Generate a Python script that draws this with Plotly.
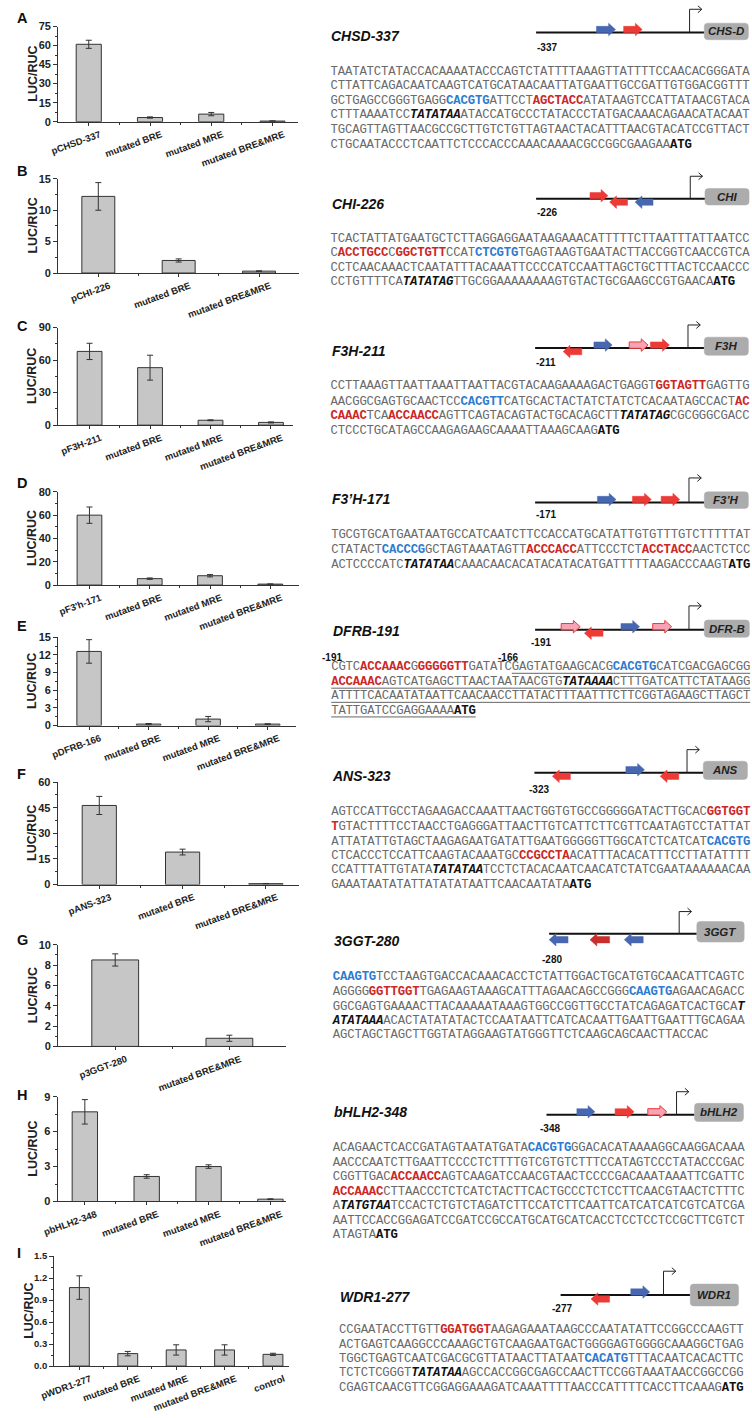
import plotly.graph_objects as go

W, H = 752, 1418

# ---------------- bar-chart data ----------------
A_labels = ["pCHSD-337", "mutated BRE", "mutated MRE", "mutated BRE&amp;MRE"]
A_vals = [61.0, 3.3, 6.0, 0.5]
A_err = [3.2, 0.5, 1.3, 0.2]
B_labels = ["pCHI-226", "mutated BRE", "mutated BRE&amp;MRE"]
B_vals = [12.2, 2.0, 0.3]
B_err = [2.2, 0.25, 0.05]
C_labels = ["pF3H-211", "mutated BRE", "mutated MRE", "mutated BRE&amp;MRE"]
C_vals = [68.0, 53.0, 4.5, 2.5]
C_err = [7.5, 11.5, 0.4, 0.5]
D_labels = ["pF3'h-171", "mutated BRE", "mutated MRE", "mutated BRE&amp;MRE"]
D_vals = [60.0, 5.5, 8.0, 0.8]
D_err = [7.0, 0.6, 1.0, 0.2]
E_labels = ["pDFRB-166", "mutated BRE", "mutated MRE", "mutated BRE&amp;MRE"]
E_vals = [12.6, 0.25, 1.1, 0.25]
E_err = [2.0, 0.1, 0.45, 0.05]
F_labels = ["pANS-323", "mutated BRE", "mutated BRE&amp;MRE"]
F_vals = [46.3, 19.0, 0.5]
F_err = [5.3, 1.7, 0.1]
G_labels = ["p3GGT-280", "mutated BRE&amp;MRE"]
G_vals = [8.5, 0.8]
G_err = [0.6, 0.3]
H_labels = ["pbHLH2-348", "mutated BRE", "mutated MRE", "mutated BRE&amp;MRE"]
H_vals = [7.7, 2.15, 3.0, 0.2]
H_err = [1.05, 0.15, 0.15, 0.03]
I_labels = ["pWDR1-277", "mutated BRE", "mutated MRE", "mutated BRE&amp;MRE", "control"]
I_vals = [1.07, 0.17, 0.22, 0.22, 0.16]
I_err = [0.16, 0.03, 0.07, 0.07, 0.015]

# ---------------- promoter sequences ----------------
# n = plain, B = blue motif, R = red motif, T = TATA box, A = ATG ; suffix u = underlined
CHSD_seq = [
    [('n', 'TAATATCTATACCACAAAATACCCAGTCTATTTTAAAGTTATTTTCCAACACGGGATA')],
    [('n', 'CTTATTCAGACAATCAAGTCATGCATAACAATTATGAATTGCCGATTGTGGACGGTTT')],
    [('n', 'GCTGAGCCGGGTGAGG'), ('B', 'CACGTG'), ('n', 'ATTCCT'), ('R', 'AGCTACC'), ('n', 'ATATAAGTCCATTATAACGTACA')],
    [('n', 'CTTTAAAATCC'), ('T', 'TATATAA'), ('n', 'ATACCATGCCCTATACCCTATGACAAACAGAACATACAAT')],
    [('n', 'TGCAGTTAGTTAACGCCGCTTGTCTGTTAGTAACTACATTTAACGTACATCCGTTACT')],
    [('n', 'CTGCAATACCCTCAATTCTCCCACCCAAACAAAACGCCGGCGAAGAA'), ('A', 'ATG')],
]
CHI_seq = [
    [('n', 'TCACTATTATGAATGCTCTTAGGAGGAATAAGAAACATTTTTCTTAATTTATTAATCC')],
    [('n', 'C'), ('R', 'ACCTGCC'), ('n', 'C'), ('R', 'GGCTGTT'), ('n', 'CCAT'), ('B', 'CTCGTG'), ('n', 'TGAGTAAGTGAATACTTACCGGTCAACCGTCA')],
    [('n', 'CCTCAACAAACTCAATATTTACAAATTCCCCATCCAATTAGCTGCTTTACTCCAACCC')],
    [('n', 'CCTGTTTTCA'), ('T', 'TATATAG'), ('n', 'TTGCGGAAAAAAAAGTGTACTGCGAAGCCGTGAACA'), ('A', 'ATG')],
]
F3H_seq = [
    [('n', 'CCTTAAAGTTAATTAAATTAATTACGTACAAGAAAAGACTGAGGT'), ('R', 'GGTAGTT'), ('n', 'GAGTTG')],
    [('n', 'AACGGCGAGTGCAACTCC'), ('B', 'CACGTT'), ('n', 'CATGCACTACTATCTATCTCACAATAGCCACT'), ('R', 'AC')],
    [('R', 'CAAAC'), ('n', 'TCA'), ('R', 'ACCAACC'), ('n', 'AGTTCAGTACAGTACTGCACAGCTT'), ('T', 'TATATAG'), ('n', 'CGCGGGCGACC')],
    [('n', 'CTCCCTGCATAGCCAAGAGAAGCAAAATTAAAGCAAG'), ('A', 'ATG')],
]
F3pH_seq = [
    [('n', 'TGCGTGCATGAATAATGCCATCAATCTTCCACCATGCATATTGTGTTTGTCTTTTTAT')],
    [('n', 'CTATACT'), ('B', 'CACCCG'), ('n', 'GCTAGTAAATAGTT'), ('R', 'ACCCACC'), ('n', 'ATTCCCTCT'), ('R', 'ACCTACC'), ('n', 'AACTCTCC')],
    [('n', 'ACTCCCCATC'), ('T', 'TATATAA'), ('n', 'CAAACAACACATACATACATGATTTTTAAGACCCAAGT'), ('A', 'ATG')],
]
DFRB_seq = [
    [('n', 'CGTC'), ('R', 'ACCAAAC'), ('n', 'G'), ('R', 'GGGGGTT'), ('n', 'GATATC'), ('nu', 'GAGTATGAAGCACG'), ('Bu', 'CACGTG'), ('nu', 'CATCGACGAGCGG')],
    [('Ru', 'ACCAAAC'), ('nu', 'AGTCATGAGCTTAACTAATAACGTG'), ('Tu', 'TATAAAA'), ('nu', 'CTTTGATCATTCTATAAGG')],
    [('nu', 'ATTTTCACAATATAATTCAACAACCTTATACTTTAATTTCTTCGGTAGAAGCTTAGCT')],
    [('nu', 'TATTGATCCGAGGAAAA'), ('Au', 'ATG')],
]
ANS_seq = [
    [('n', 'AGTCCATTGCCTAGAAGACCAAATTAACTGGTGTGCCGGGGGATACTTGCAC'), ('R', 'GGTGGT')],
    [('R', 'T'), ('n', 'GTACTTTTCCTAACCTGAGGGATTAACTTGTCATTCTTCGTTCAATAGTCCTATTAT')],
    [('n', 'ATTATATTGTAGCTAAGAGAATGATATTGAATGGGGGTTGGCATCTCATCAT'), ('B', 'CACGTG')],
    [('n', 'CTCACCCTCCATTCAAGTACAAATGC'), ('R', 'CCGCCTA'), ('n', 'ACATTTACACATTTCCTTATATTTT')],
    [('n', 'CCATTTATTGTATA'), ('T', 'TATATAA'), ('n', 'TCCTCTACACAATCAACATCTATCGAATAAAAAACAA')],
    [('n', 'GAAATAATATATTATATATAATTCAACAATATA'), ('A', 'ATG')],
]
GGT_seq = [
    [('B', 'CAAGTG'), ('n', 'TCCTAAGTGACCACAAACACCTCTATTGGACTGCATGTGCAACATTCAGTC')],
    [('n', 'AGGGG'), ('R', 'GGTTGGT'), ('n', 'TGAGAAGTAAAGCATTTAGAACAGCCGGG'), ('B', 'CAAGTG'), ('n', 'AGAACAGACC')],
    [('n', 'GGCGAGTGAAAACTTACAAAAATAAAGTGGCCGGTTGCCTATCAGAGATCACTGCA'), ('T', 'T')],
    [('T', 'ATATAAA'), ('n', 'ACACTATATATACTCCAATAATTCATCACAATTGAATTGAATTTGCAGAA')],
    [('n', 'AGCTAGCTAGCTTGGTATAGGAAGTATGGGTTCTCAAGCAGCAACTTACCAC')],
]
BHLH_seq = [
    [('n', 'ACAGAACTCACCGATAGTAATATGATA'), ('B', 'CACGTG'), ('n', 'GGACACATAAAAGGCAAGGACAAA')],
    [('n', 'AACCCAATCTTGAATTCCCCTCTTTTGTCGTGTCTTTCCATAGTCCCTATACCCGAC')],
    [('n', 'CGGTTGAC'), ('R', 'ACCAACC'), ('n', 'AGTCAAGATCCAACGTAACTCCCCGACAAATAAATTCGATTC')],
    [('R', 'ACCAAAC'), ('n', 'CTTAACCCTCTCATCTACTTCACTGCCCTCTCCTTCAACGTAACTCTTTC')],
    [('n', 'A'), ('T', 'TATGTAA'), ('n', 'TCCACTCTGTCTAGATCTTCCATCTTCAATTCATCATCATCGTCATCGA')],
    [('n', 'AATTCCACCGGAGATCCGATCCGCCATGCATGCATCACCTCCTCCTCCGCTTCGTCT')],
    [('n', 'ATAGTA'), ('A', 'ATG')],
]
WDR_seq = [
    [('n', 'CCGAATACCTTGTT'), ('R', 'GGATGGT'), ('n', 'AAGAGAAATAAGCCCAATATATTCCGGCCCAAGTT')],
    [('n', 'ACTGAGTCAAGGCCCAAAGCTGTCAAGAATGACTGGGGAGTGGGGCAAAGGCTGAG')],
    [('n', 'TGGCTGAGTCAATCGACGCGTTATAACTTATAAT'), ('B', 'CACATG'), ('n', 'TTTACAATCACACTTC')],
    [('n', 'TCTCTCGGGT'), ('T', 'TATATAA'), ('n', 'AGCCACCGGCGAGCCAACTTCCGGTAAATAACCGGCCGG')],
    [('n', 'CGAGTCAACGTTCGGAGGAAAGATCAAATTTTAACCCATTTTCACCTTCAAAG'), ('A', 'ATG')],
]


def X(p):
    return p / W


def Y(p):
    return 1 - p / H


# ---------------- left: bar panels ----------------
panels = [
    dict(lab=A_labels, v=A_vals, e=A_err, x0=44, x1=289, y0=116.7, yt=20.7, ymax=75, dt=15, mn=7.5, xr=[-0.5, 3.42], L='A', Ly=12.5),
    dict(lab=B_labels, v=B_vals, e=B_err, x0=44, x1=290, y0=269.3, yt=174.3, ymax=15, dt=5, mn=2.5, xr=[-0.5, 2.5], L='B', Ly=166),
    dict(lab=C_labels, v=C_vals, e=C_err, x0=44, x1=284, y0=422.7, yt=324.3, ymax=90, dt=30, mn=15, xr=[-0.52, 3.37], L='C', Ly=322.7),
    dict(lab=D_labels, v=D_vals, e=D_err, x0=44, x1=290, y0=584, yt=490, ymax=80, dt=20, mn=10, xr=[-0.52, 3.48], L='D', Ly=481),
    dict(lab=E_labels, v=E_vals, e=E_err, x0=44, x1=287, y0=725.7, yt=636.7, ymax=15, dt=3, mn=1.5, xr=[-0.52, 3.48], L='E', Ly=625),
    dict(lab=F_labels, v=F_vals, e=F_err, x0=43.5, x1=290, y0=886, yt=782.7, ymax=60, dt=15, mn=7.5, xr=[-0.5, 2.4], L='F', Ly=775),
    dict(lab=G_labels, v=G_vals, e=G_err, x0=44, x1=277, y0=1049.3, yt=946.7, ymax=10, dt=2, mn=1, xr=[-0.5, 1.5], L='G', Ly=941.7),
    dict(lab=H_labels, v=H_vals, e=H_err, x0=43.5, x1=277, y0=1205.7, yt=1100, ymax=9, dt=3, mn=1.5, xr=[-0.44, 3.26], L='H', Ly=1098),
    dict(lab=I_labels, v=I_vals, e=I_err, x0=40, x1=280, y0=1371.7, yt=1260.7, ymax=1.5, dt=0.3, mn=0.15, xr=[-0.52, 4.34], L='I', Ly=1258,
         fmt='.1f', tfs=9.5, ttx=14),
]

fig = go.Figure()
layout = dict(width=W, height=H, margin=dict(l=0, r=0, t=0, b=0), paper_bgcolor='white',
              plot_bgcolor='rgba(0,0,0,0)', showlegend=False)
annotations = []
shapes = []
SANS = 'Liberation Sans'
DARK = '#222222'

for i, p in enumerate(panels, start=1):
    n = len(p['v'])
    xs = list(range(n))
    sfx = '' if i == 1 else str(i)
    fig.add_trace(go.Bar(
        x=xs, y=p['v'], width=0.41, xaxis='x' + sfx, yaxis='y' + sfx,
        marker=dict(color='#c6c6c6', line=dict(color='#333333', width=1)),
        error_y=dict(type='data', array=p['e'], visible=True, color='#333333', thickness=1, width=3),
        hoverinfo='skip'))
    layout['xaxis' + sfx] = dict(
        domain=[X(p['x0']), X(p['x1'])], anchor='y' + sfx, range=p['xr'],
        showline=True, linecolor='#333333', linewidth=1, ticks='outside', ticklen=3, tickcolor='#333333',
        tickvals=xs, ticktext=p['lab'], tickangle=-20, ticklabelshift=11,
        tickfont=dict(family=SANS, size=9.5, color=DARK, weight='bold'),
        minor=dict(ticks='outside', ticklen=2, tickvals=[k + 0.5 for k in range(n - 1)], tickcolor='#333333'),
        showgrid=False, zeroline=False, fixedrange=True)
    layout['yaxis' + sfx] = dict(
        domain=[Y(p['y0']), Y(p['yt'])], anchor='x' + sfx, range=[0, p['ymax']],
        showline=True, linecolor='#333333', linewidth=1, ticks='outside', ticklen=4, tickcolor='#333333',
        tick0=0, dtick=p['dt'], tickformat=p.get('fmt', ''),
        tickfont=dict(family=SANS, size=p.get('tfs', 11), color=DARK, weight='bold'),
        minor=dict(ticks='outside', ticklen=2, tick0=0, dtick=p['mn'], tickcolor='#333333'),
        showgrid=False, zeroline=False, fixedrange=True)
    annotations.append(dict(text='LUC/RUC', x=X(p.get('ttx', 18)), y=Y((p['y0'] + p['yt']) / 2), xref='paper', yref='paper',
                            textangle=-90, showarrow=False, xanchor='center', yanchor='middle',
                            font=dict(family=SANS, size=12.5, color=DARK, weight='bold')))
    annotations.append(dict(text='<b>' + p['L'] + '</b>', x=X(0), y=Y(p['Ly']), xref='paper', yref='paper',
                            showarrow=False, xanchor='left', yanchor='middle',
                            font=dict(family=SANS, size=14.5, color='#111111')))

# full-figure pixel axis for the sequence text
layout['xaxis10'] = dict(domain=[0, 1], range=[0, W], anchor='y10', visible=False, fixedrange=True)
layout['yaxis10'] = dict(domain=[0, 1], range=[H, 0], anchor='x10', visible=False, fixedrange=True)

# ---------------- right: promoter diagrams + sequences ----------------
COL = {'blue': '#4767b1', 'red': '#ec3b36', 'pink': '#f6a3b6', 'dred': '#c82f2c'}
diagrams = [
    dict(title='CHSD-337', tx=321.7, ty=30, ly=26.7, lx0=531.7, tss=688.3, top=3.3, box=(703.3, 748.3, 17.3, 34),
         gene='CHS-D', num='-337', nx=531.7, ny=41.7, rev=3.5,
         arrows=[(593.3, 612.7, 1, 'blue'), (621, 640, 1, 'red')],
         sx=322, sy=[66.7, 80.7, 95.7, 110, 125, 140], seq=CHSD_seq),
    dict(title='CHI-226', tx=322, ty=199.3, ly=194.3, lx0=531.7, tss=689, top=171.7, box=(704, 749, 184, 200.7),
         gene='CHI', num='-226', nx=531.7, ny=208.3, rev=3.5,
         arrows=[(586.7, 605, 1, 'red'), (606.7, 625, -1, 'red'), (632.7, 651, -1, 'blue')],
         sx=322, sy=[235, 249.3, 264, 278.3], seq=CHI_seq),
    dict(title='F3H-211', tx=322, ty=348.3, ly=345, lx0=530.7, tss=686.7, top=321.7, box=(703.3, 748.3, 334, 352.3),
         gene='F3H', num='-211', nx=530.7, ny=359.3, rev=3.5,
         arrows=[(559.3, 578.3, -1, 'red'), (590.7, 609.3, 1, 'blue'), (626.7, 646, 1, 'pink'), (648.3, 667.7, 1, 'red')],
         sx=322, sy=[383.3, 399, 413.3, 428.3], seq=F3H_seq),
    dict(title='F3\u2019H-171', tx=322, ty=497.3, ly=500.7, lx0=530.7, tss=687.7, top=476, box=(703.3, 748.3, 490, 506.7),
         gene='F3\u2019H', num='-171', nx=530.7, ny=513.3, rev=3.5,
         arrows=[(594.3, 613.3, 1, 'blue'), (630, 649.3, 1, 'red'), (659.3, 678.3, 1, 'red')],
         sx=322.7, sy=[533.3, 548.3, 563.3], seq=F3pH_seq),
    dict(title='DFRB-191', tx=323.3, ty=630.7, ly=629, lx0=530.7, tss=687.7, top=605, box=(703.3, 749.3, 619.3, 636.7),
         gene='DFR-B', num='-191', nx=525, ny=641.7, rev=3.5,
         arrows=[(557.3, 576.7, 1, 'pink'), (581, 600, -1, 'red'), (618.3, 637.3, 1, 'blue'), (650.7, 670, 1, 'pink')],
         sx=322.7, sy=[666.7, 681.7, 696, 710.7], seq=DFRB_seq),
    dict(title='ANS-323', tx=322, ty=776.7, ly=773.3, lx0=530, tss=685.7, top=750, box=(702.3, 747.3, 761.7, 780),
         gene='ANS', num='-323', nx=523.3, ny=790, rev=3.5,
         arrows=[(548.3, 566.7, -1, 'red'), (623.3, 642.3, 1, 'blue'), (658.3, 677.3, -1, 'red')],
         sx=322.7, sy=[813.3, 828.3, 842.7, 856.7, 871, 886], seq=ANS_seq),
    dict(title='3GGT-280', tx=324.3, ty=943.3, ly=935.7, lx0=545, tss=677.7, top=913.3, box=(695.7, 744, 923.3, 944),
         gene='3GGT', num='-280', nx=536.7, ny=961.7, rev=6,
         arrows=[(545, 564.3, -1, 'blue'), (586.7, 606.7, -1, 'dred'), (621.7, 641, -1, 'blue')],
         sx=324.3, sy=[979.3, 994.3, 1009, 1023.3, 1037.7], seq=GGT_seq),
    dict(title='bHLH2-348', tx=324.3, ty=1115, ly=1118.3, lx0=542.3, tss=675, top=1095, box=(693.3, 743.3, 1106.7, 1125),
         gene='bHLH2', num='-348', nx=535, ny=1131.7, rev=3.5,
         arrows=[(573.3, 591.7, 1, 'blue'), (612.3, 631.7, 1, 'red'), (645.7, 665, 1, 'pink')],
         sx=324.3, sy=[1151.7, 1166.7, 1181, 1195.7, 1210, 1225, 1239.3], seq=BHLH_seq),
    dict(title='WDR1-277', tx=330.7, ty=1302.3, ly=1300, lx0=556.7, tss=661.7, top=1276, box=(689, 738.3, 1289, 1311),
         gene='WDR1', num='-277', nx=546.7, ny=1313.3, rev=4,
         arrows=[(587.7, 606.7, -1, 'red'), (628.3, 647.7, 1, 'blue')],
         sx=330.7, sy=[1335, 1350, 1364, 1378.3, 1393.3], seq=WDR_seq),
]


def pstr(pts):
    return 'M ' + ' L '.join(f'{X(a):.5f},{Y(b):.5f}' for a, b in pts)


def arrow_path(x0, x1, d, c, bh=3.2, hh=6.3, hl=7):
    if d > 0:
        pts = [(x0, c - bh), (x1 - hl, c - bh), (x1 - hl, c - hh), (x1, c), (x1 - hl, c + hh), (x1 - hl, c + bh), (x0, c + bh)]
    else:
        pts = [(x1, c - bh), (x0 + hl, c - bh), (x0 + hl, c - hh), (x0, c), (x0 + hl, c + hh), (x0 + hl, c + bh), (x1, c + bh)]
    return pstr(pts) + ' Z'


def rrect(x0, x1, y0, y1, r=3.5):
    f = lambda a, b: f'{X(a):.5f},{Y(b):.5f}'
    return (f'M {f(x0 + r, y0)} L {f(x1 - r, y0)} Q {f(x1, y0)} {f(x1, y0 + r)} L {f(x1, y1 - r)} '
            f'Q {f(x1, y1)} {f(x1 - r, y1)} L {f(x0 + r, y1)} Q {f(x0, y1)} {f(x0, y1 - r)} '
            f'L {f(x0, y0 + r)} Q {f(x0, y0)} {f(x0 + r, y0)} Z')


CW = 7.37  # character cell width (px)
TXT_STYLE = {
    'n': dict(color='#6a6a6a', weight='normal', style='normal'),
    'B': dict(color='#2e7bcf', weight='bold', style='normal'),
    'R': dict(color='#cc2727', weight='bold', style='normal'),
    'T': dict(color='#111111', weight='bold', style='italic'),
    'A': dict(color='#111111', weight='bold', style='normal'),
}
groups = {k: dict(x=[], y=[], t=[]) for k in TXT_STYLE}

for d in diagrams:
    ly = d['ly']
    bx0, bx1, by0, by1 = d['box']
    shapes.append(dict(type='line', xref='paper', yref='paper', x0=X(d['lx0']), x1=X(bx0), y0=Y(ly), y1=Y(ly),
                       line=dict(color='#111111', width=2)))
    t, top = d['tss'], d['top']
    shapes.append(dict(type='path', xref='paper', yref='paper', path=pstr([(t, ly), (t, top), (t + 12.5, top)]),
                       line=dict(color='#222222', width=1)))
    shapes.append(dict(type='path', xref='paper', yref='paper',
                       path=pstr([(t + 8.5, top - 3.5), (t + 12.5, top), (t + 8.5, top + 3.5)]),
                       line=dict(color='#222222', width=1)))
    for (a0, a1, dr, col) in d['arrows']:
        c = ly - 3 if dr > 0 else ly + d['rev']
        if col == 'pink':
            shapes.append(dict(type='path', xref='paper', yref='paper', path=arrow_path(a0, a1, dr, c),
                               fillcolor=COL['pink'], line=dict(color=COL['red'], width=1)))
        else:
            shapes.append(dict(type='path', xref='paper', yref='paper', path=arrow_path(a0, a1, dr, c),
                               fillcolor=COL[col], line=dict(color=COL[col], width=0.5)))
    shapes.append(dict(type='path', xref='paper', yref='paper', path=rrect(bx0, bx1, by0, by1),
                       fillcolor='#acacac', line=dict(color='#acacac', width=0.5)))
    annotations.append(dict(text='<b><i>' + d['gene'] + '</i></b>', x=X((bx0 + bx1) / 2), y=Y((by0 + by1) / 2),
                            xref='paper', yref='paper', showarrow=False, xanchor='center', yanchor='middle',
                            font=dict(family=SANS, size=11.5, color='#222222')))
    annotations.append(dict(text='<b>' + d['num'] + '</b>', x=X(d['nx'] - 1), y=Y(d['ny']), xref='paper', yref='paper',
                            showarrow=False, xanchor='left', yanchor='middle',
                            font=dict(family=SANS, size=10, color='#111111')))
    annotations.append(dict(text='<b><i>' + d['title'] + '</i></b>', x=X(d['tx'] - 1), y=Y(d['ty']),
                            xref='paper', yref='paper', showarrow=False, xanchor='left', yanchor='middle',
                            font=dict(family=SANS, size=14, color='#111111')))
    # sequence: one text mark per base, laid out on a fixed character grid
    for yy, line in zip(d['sy'], d['seq']):
        k = 0
        u0 = u1 = None
        for st, txt in line:
            for ch in txt:
                g = groups[st[0]]
                g['x'].append(d['sx'] + (k + 0.5) * CW)
                g['y'].append(yy)
                g['t'].append(ch)
                if st.endswith('u'):
                    if u0 is None:
                        u0 = d['sx'] + k * CW
                    u1 = d['sx'] + (k + 1) * CW
                k += 1
        if u0 is not None:
            shapes.append(dict(type='line', xref='paper', yref='paper', x0=X(u0), x1=X(u1),
                               y0=Y(yy + 6.3), y1=Y(yy + 6.3), line=dict(color='#555555', width=0.9)))

for key, g in groups.items():
    s = TXT_STYLE[key]
    fig.add_trace(go.Scatter(
        x=g['x'], y=g['y'], text=g['t'], mode='text', textposition='middle center',
        xaxis='x10', yaxis='y10', hoverinfo='skip', cliponaxis=False,
        textfont=dict(family='Liberation Mono', size=12.3, color=s['color'], weight=s['weight'], style=s['style'])))

for txt, cx in [('-191', 323.7), ('-166', 503)]:
    annotations.append(dict(text='<b>' + txt + '</b>', x=X(cx), y=Y(656.7), xref='paper', yref='paper',
                            showarrow=False, xanchor='center', yanchor='middle',
                            font=dict(family=SANS, size=10, color='#111111')))

layout['annotations'] = annotations
layout['shapes'] = shapes
fig.update_layout(**layout)
fig.write_html('out.html', config={'displayModeBar': False, 'staticPlot': True},
               post_script="document.body.style.margin='0px';document.body.style.padding='0px';"
                           "document.documentElement.style.overflow='hidden';")
